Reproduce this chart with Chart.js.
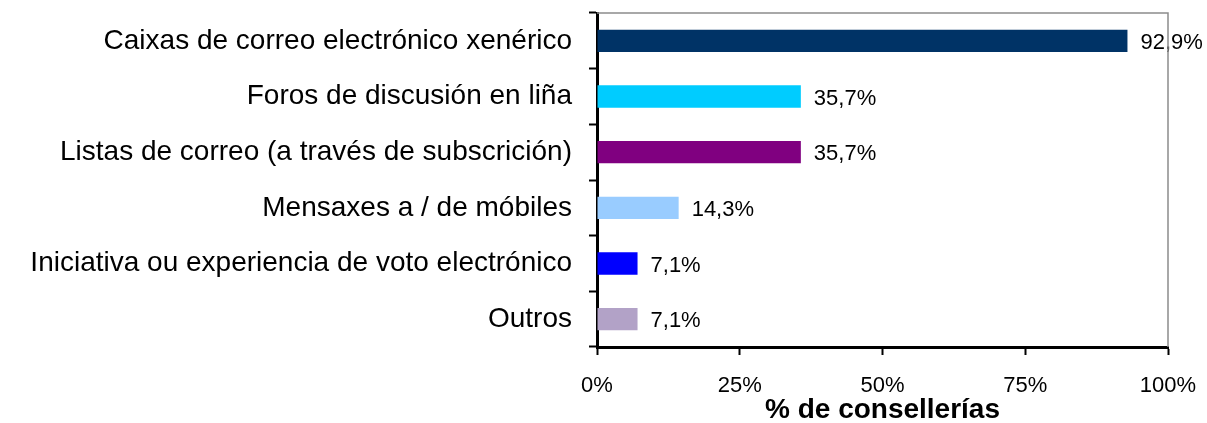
<!DOCTYPE html>
<html>
<head>
<meta charset="utf-8">
<script src="https://cdn.jsdelivr.net/npm/chart.js@4.4.3/dist/chart.umd.min.js"></script>
<style>
  html, body { margin: 0; padding: 0; background: #fff; }
  #wrap { width: 1207px; height: 423px; position: relative; }
</style>
</head>
<body>
<div id="wrap"><canvas id="chart"></canvas></div>
<script>
// Categories and values (% de consellerías)
const categories = [
    'Caixas de correo electrónico xenérico',
    'Foros de discusión en liña',
    'Listas de correo (a través de subscrición)',
    'Mensaxes a / de móbiles',
    'Iniciativa ou experiencia de voto electrónico',
    'Outros'
];
const values = [92.9, 35.7, 35.7, 14.3, 7.1, 7.1];
const barColors = ['#003366', '#00ccff', '#800080', '#99ccff', '#0000ff', '#b2a2c7'];
const xTicks = [0, 25, 50, 75, 100];
const xTitle = '% de consellerías';

const FONT = '"Liberation Sans", Arial, sans-serif';

// Value labels to the right of each bar, plus the grey top/right frame
const extras = {
    id: 'extras',
    afterDatasetsDraw(chart) {
        const ctx = chart.ctx;
        const meta = chart.getDatasetMeta(0);
        ctx.save();
        ctx.font = '22px ' + FONT;
        ctx.fillStyle = '#000';
        ctx.textBaseline = 'middle';
        ctx.textAlign = 'left';
        meta.data.forEach((bar, i) => {
            const txt = values[i].toFixed(1).replace('.', ',') + '%';
            ctx.fillText(txt, bar.x + 13, bar.y + 2);
        });
        const a = chart.chartArea;
        ctx.strokeStyle = '#8c8c8c';
        ctx.lineWidth = 1.5;
        ctx.beginPath();
        ctx.moveTo(a.left, a.top);
        ctx.lineTo(a.right, a.top);
        ctx.lineTo(a.right, a.bottom);
        ctx.stroke();
        ctx.restore();
    }
};

new Chart(document.getElementById('chart'), {
    type: 'bar',
    data: {
        labels: categories,
        datasets: [{
            data: values,
            backgroundColor: barColors,
            borderWidth: 0,
            barPercentage: 0.4,
            categoryPercentage: 1
        }]
    },
    options: {
        indexAxis: 'y',
        responsive: true,
        maintainAspectRatio: false,
        animation: false,
        layout: { padding: { top: 13, right: 39, bottom: 0, left: 0 } },
        plugins: {
            legend: { display: false },
            tooltip: { enabled: false }
        },
        scales: {
            x: {
                min: 0,
                max: 100,
                afterBuildTicks: (scale) => { scale.ticks = xTicks.map(v => ({ value: v })); },
                afterFit: (scale) => {
                    scale.height = 76;
                    scale.paddingLeft = 0;
                    scale.paddingRight = 0;
                },
                border: { color: '#000', width: 3 },
                grid: {
                    drawOnChartArea: false,
                    drawTicks: true,
                    tickLength: 8,
                    tickColor: '#000',
                    tickWidth: 2
                },
                ticks: {
                    color: '#000',
                    padding: 18,
                    font: { family: FONT, size: 22 },
                    callback: (v) => v + '%'
                },
                title: {
                    display: true,
                    text: xTitle,
                    color: '#000',
                    font: { family: FONT, size: 28, weight: 'bold', lineHeight: 1 },
                    padding: { top: 0, bottom: -1 }
                }
            },
            y: {
                afterFit: (scale) => {
                    scale.width = 597;
                    scale.paddingTop = 0;
                    scale.paddingBottom = 0;
                },
                border: { color: '#000', width: 3 },
                grid: {
                    offset: true,
                    drawOnChartArea: false,
                    drawTicks: true,
                    tickLength: 8,
                    tickColor: '#000',
                    tickWidth: 2
                },
                ticks: {
                    color: '#000',
                    padding: 17,
                    font: { family: FONT, size: 28 }
                }
            }
        }
    },
    plugins: [extras]
});
</script>
</body>
</html>
